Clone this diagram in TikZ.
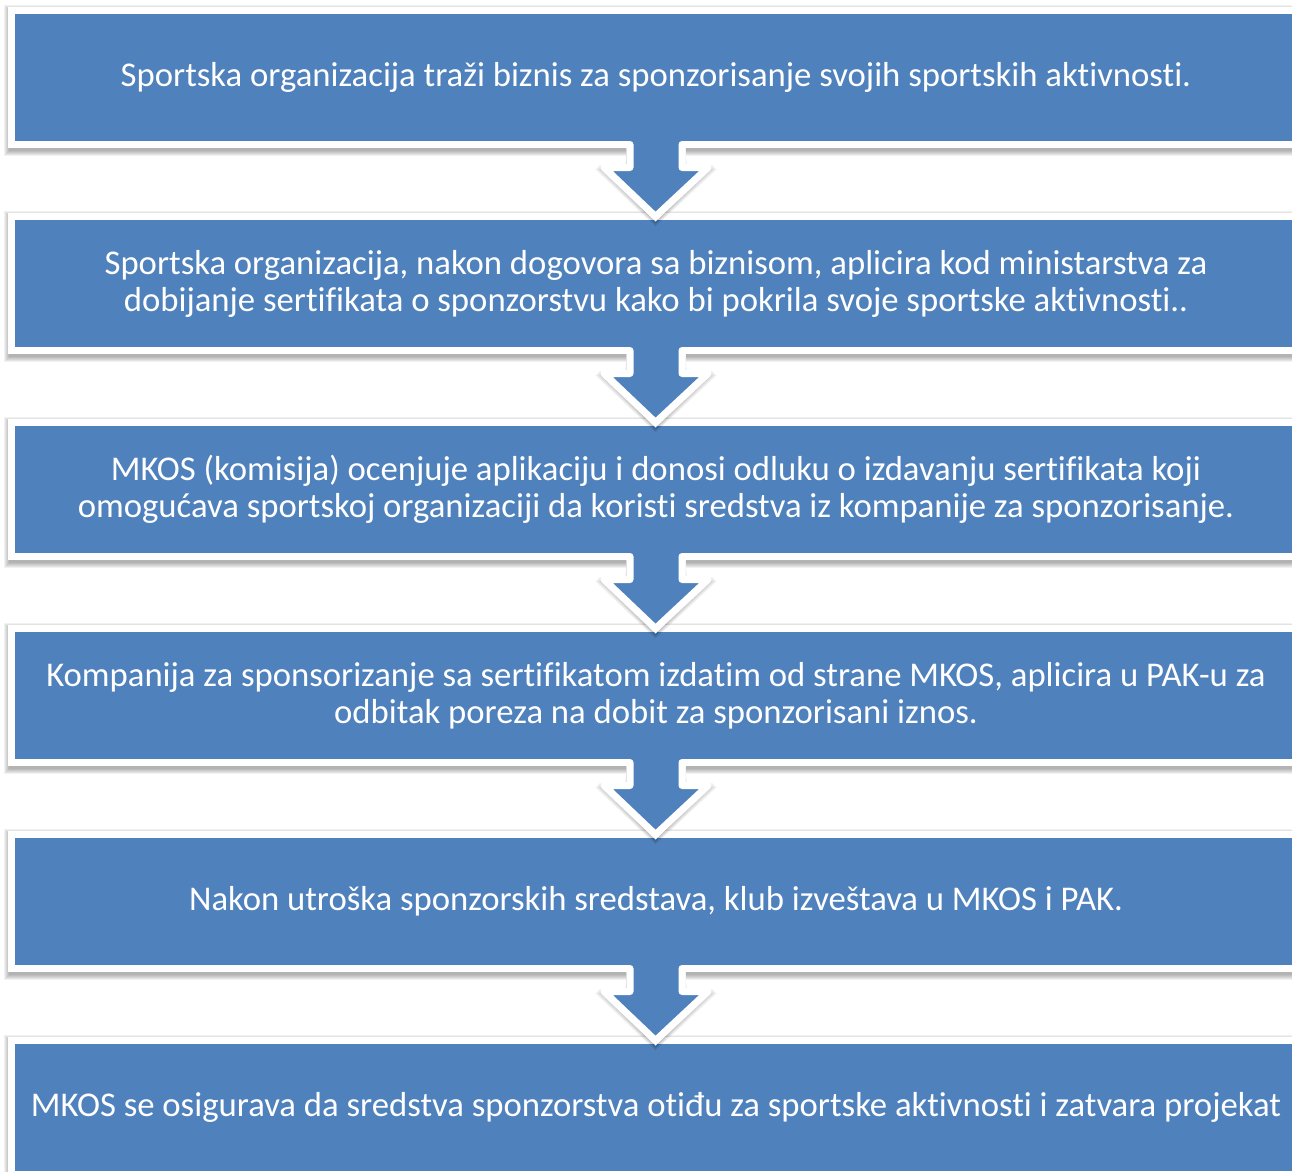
\documentclass[tikz,border=0pt]{standalone}
\usepackage{fontspec}
\setmainfont[Ligatures=NoCommon]{Carlito}
\usetikzlibrary{calc,backgrounds}
\definecolor{abl}{HTML}{4F81BD}
\begin{document}
\begin{tikzpicture}[x=1pt,y=-1pt,
  stepbox/.style={rectangle, fill=abl, draw=white, line width=7pt,
    minimum width=1289pt, minimum height=134pt, inner sep=0pt, outer sep=0pt,
    text=white, font=\fontsize{34.7}{37}\selectfont, align=center},
  shadowlayer/.style={fill=black, fill opacity=0.055},
  arrowline/.style={draw=white, line width=7pt, line join=round, line cap=round}]
\useasboundingbox (0,0) rectangle (1292,1171);
\node[stepbox] (b1) at (656,77.5) {Sportska organizacija traži biznis za sponzorisanje svojih sportskih aktivnosti.};
\node[stepbox] (b2) at (656,283.5) {Sportska organizacija, nakon dogovora sa biznisom, aplicira kod ministarstva za\\dobijanje sertifikata o sponzorstvu kako bi pokrila svoje sportske aktivnosti..};
\node[stepbox] (b3) at (656,489.5) {MKOS (komisija) ocenjuje aplikaciju i donosi odluku o izdavanju sertifikata koji\\omogućava sportskoj organizaciji da koristi sredstva iz kompanije za sponzorisanje.};
\node[stepbox] (b4) at (656,695.5) {Kompanija za sponsorizanje sa sertifikatom izdatim od strane MKOS, aplicira u PAK-u za\\odbitak poreza na dobit za sponzorisani iznos.};
\node[stepbox] (b5) at (656,901.5) {Nakon utroška sponzorskih sredstava, klub izveštava u MKOS i PAK.};
\node[stepbox] (b6) at (656,1107.5) {MKOS se osigurava da sredstva sponzorstva otiđu za sportske aktivnosti i zatvara projekat};
\begin{scope}[on background layer]
  \fill[white] (0,0) rectangle (1292,1171);
  \foreach \n in {b1,b2,b3,b4,b5,b6}{
    \foreach \k in {0,1,2,3,4,5}{
      \fill[shadowlayer] ($(\n.north west)+(-3.5-\k+0.5,-3.5-\k+2.5)$) rectangle ($(\n.south east)+(3.5+\k+0.5,3.5+\k+2.5)$);
    }
  }
\end{scope}
\foreach \a/\b in {b1/b2,b2/b3,b3/b4,b4/b5,b5/b6}{
  \foreach \k in {1,2,3,4,5}{
    \fill[shadowlayer] ($(\a.south)+(-29.5,4+\k)$) -- ($(\a.south)+(-29.5-0.3*\k,19.5+\k)$) -- ($(\a.south)+(-56-\k,19.5+\k)$)
      -- ($(\b.north)+(-0.5,5+\k)$) -- ($(\a.south)+(56+\k,19.5+\k)$) -- ($(\a.south)+(29.5+0.3*\k,19.5+\k)$) -- ($(\a.south)+(29.5,4+\k)$) -- cycle;
  }
  \fill[white] ($(\a.south)+(-29.5,3)$) -- ($(\a.south)+(-29.5,19.5)$) -- ($(\a.south)+(-56,19.5)$)
    -- ($(\b.north)+(-0.5,5)$) -- ($(\a.south)+(56,19.5)$) -- ($(\a.south)+(29.5,19.5)$) -- ($(\a.south)+(29.5,3)$) -- cycle;
  \fill[abl] ($(\a.south)+(-26,-5)$) -- ($(\a.south)+(-26,23)$) -- ($(\a.south)+(-52,23)$)
    -- ($(\b.north)+(-0.5,0)$) -- ($(\a.south)+(52,23)$) -- ($(\a.south)+(26,23)$) -- ($(\a.south)+(26,-5)$) -- cycle;
  \draw[arrowline] ($(\a.south)+(-26,0)$) -- ($(\a.south)+(-26,23)$) -- ($(\a.south)+(-52,23)$)
    -- ($(\b.north)+(-0.5,0)$) -- ($(\a.south)+(52,23)$) -- ($(\a.south)+(26,23)$) -- ($(\a.south)+(26,0)$);
}
\end{tikzpicture}
\end{document}
